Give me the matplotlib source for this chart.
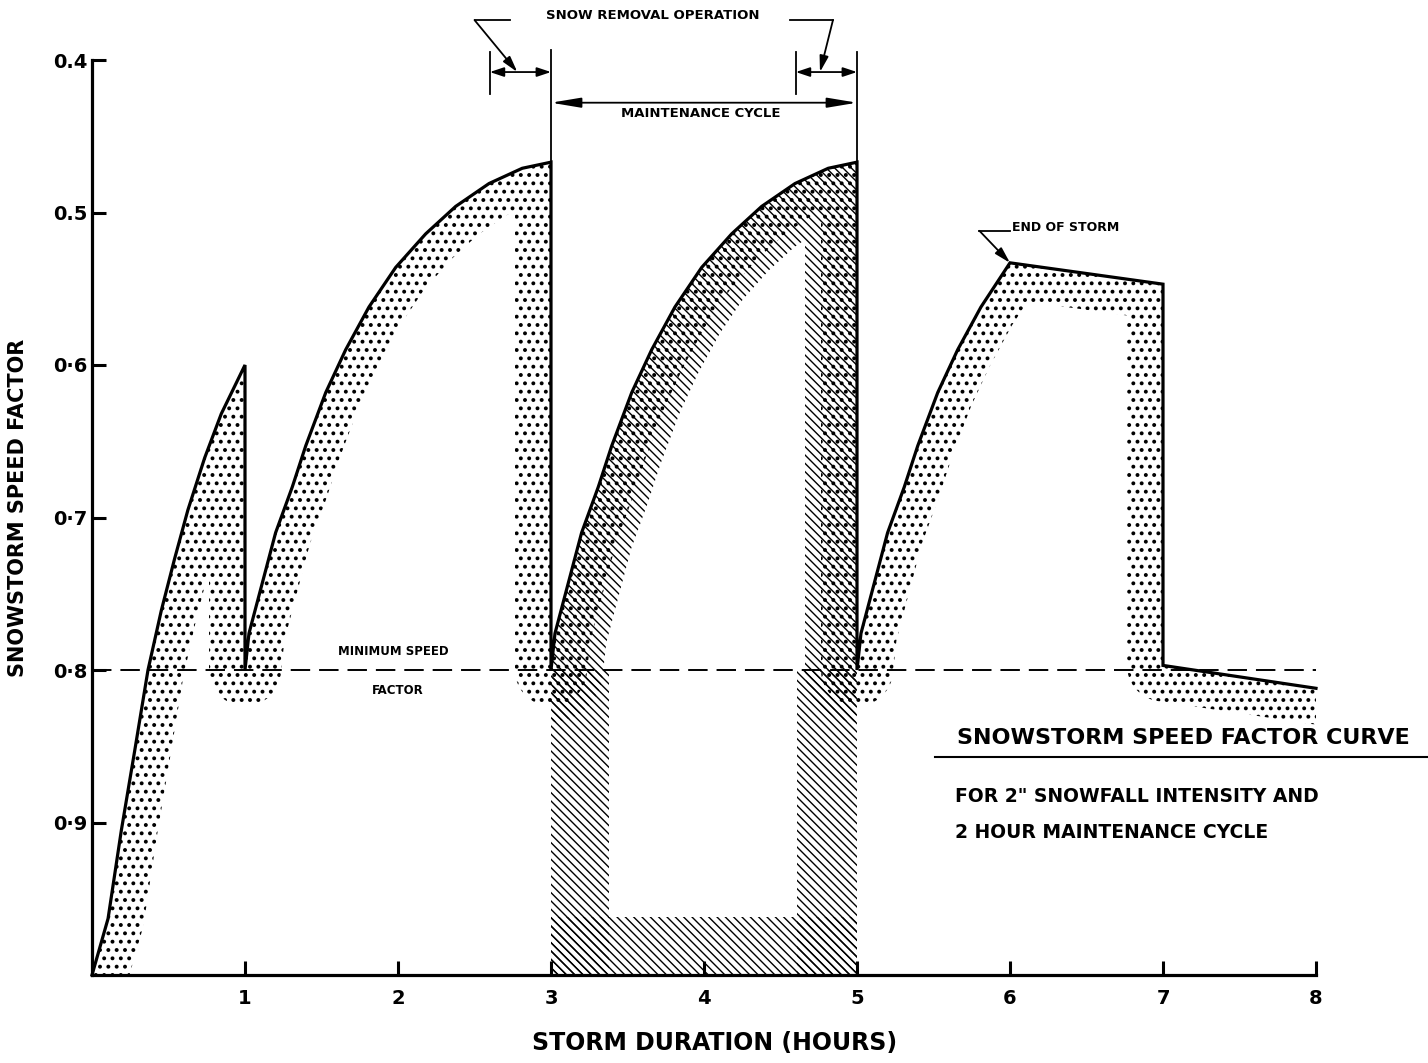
import numpy as np
import matplotlib
matplotlib.use("Agg")
import matplotlib.pyplot as plt
from matplotlib.path import Path
from matplotlib.patches import Rectangle
from matplotlib.lines import Line2D

# ------------------------------------------------------------------ data
curve_hours = [0.0, 0.105, 0.192, 0.279, 0.366, 0.453, 0.540, 0.627, 0.736, 0.845, 1.0,
               1.0, 1.026, 1.113, 1.20, 1.309, 1.397, 1.528, 1.658, 1.810, 1.985,
               2.181, 2.377, 2.595, 2.812, 3.0,
               3.0, 3.026, 3.113, 3.20, 3.309, 3.397, 3.528, 3.658, 3.810, 3.985,
               4.181, 4.377, 4.595, 4.812, 5.0,
               5.0, 5.026, 5.113, 5.20, 5.309, 5.397, 5.528, 5.658, 5.810, 6.0,
               7.0, 7.0, 8.0]
curve_factor = [1.0, 0.963, 0.905, 0.853, 0.800, 0.761, 0.727, 0.695, 0.661, 0.632, 0.600,
                0.800, 0.776, 0.743, 0.710, 0.680, 0.653, 0.618, 0.590, 0.562, 0.536,
                0.514, 0.496, 0.481, 0.471, 0.467,
                0.800, 0.776, 0.743, 0.710, 0.680, 0.653, 0.618, 0.590, 0.562, 0.536,
                0.514, 0.496, 0.481, 0.471, 0.467,
                0.800, 0.776, 0.743, 0.710, 0.680, 0.653, 0.618, 0.590, 0.562, 0.533,
                0.547, 0.797, 0.812]

min_speed_factor = 0.8
end_of_storm = (6.0, 0.533)
maintenance_cycle = (3.0, 5.0)
removal_left = (2.6, 3.0)
removal_right = (4.6, 5.0)
hatch_legs = [(3.0, 3.38), (4.61, 5.0)]
hatch_base = 0.962

x_ticks = [1, 2, 3, 4, 5, 6, 7, 8]
x_tick_labels = ["1", "2", "3", "4", "5", "6", "7", "8"]
y_ticks = [0.4, 0.5, 0.6, 0.7, 0.8, 0.9]
y_tick_labels = ["0.4", "0.5", "0·6", "0·7", "0·8", "0·9"]

# ------------------------------------------------------------------ style
BS = chr(92)
DOTS = ".."
DIAG = BS * 4

plt.rcParams["font.family"] = ["DejaVu Sans"]
plt.rcParams["font.weight"] = "bold"
plt.rcParams["hatch.color"] = "black"
plt.rcParams["hatch.linewidth"] = 1.6


def set_hlw(artist, lw):
    if hasattr(artist, "set_hatch_linewidth"):
        artist.set_hatch_linewidth(lw)


W_PX, H_PX = 1428, 1063
fig = plt.figure(figsize=(W_PX / 100, H_PX / 100), dpi=100)
L, R, T, B = 92, 1316, 60, 975
ax = fig.add_axes([L / W_PX, 1 - B / H_PX, (R - L) / W_PX, (B - T) / H_PX])
ax.set_xlim(0, 8)
ax.set_ylim(1.0, 0.4)

sx = (R - L) / 8.0
sy = (B - T) / 0.6

# ------------------------------------------------------------------ shading bands
cx = np.array(curve_hours)
cy = np.array(curve_factor)
gx = np.linspace(0, 8, 1100)
gy = np.linspace(0.4, 1.0, 820)
GX, GY = np.meshgrid(gx, gy)
PX, PY = GX * sx, GY * sy
qx, qy = cx * sx, cy * sy
dist = np.full(GX.shape, np.inf)
for i in range(len(cx) - 1):
    x0, y0, x1, y1 = qx[i], qy[i], qx[i + 1], qy[i + 1]
    dx, dy = x1 - x0, y1 - y0
    l2 = dx * dx + dy * dy
    if l2 == 0:
        continue
    t = np.clip(((PX - x0) * dx + (PY - y0) * dy) / l2, 0, 1)
    d = np.hypot(PX - (x0 + t * dx), PY - (y0 + t * dy))
    np.minimum(dist, d, out=dist)

poly = np.column_stack([np.r_[cx, 8.0, 0.0], np.r_[cy, 1.1, 1.1]])
inside = Path(poly).contains_points(
    np.column_stack([GX.ravel(), GY.ravel()])).reshape(GX.shape)

z_dots = np.where(inside, dist, 1e3)
cs1 = ax.contourf(GX, GY, z_dots, levels=[-1, 36], colors="none",
                  hatches=[DOTS], zorder=2)
set_hlw(cs1, 1.6)

in_cycle = inside & (GX >= maintenance_cycle[0]) & (GX <= maintenance_cycle[1])
z_diag = np.where(in_cycle, dist, 1e3)
cs2 = ax.contourf(GX, GY, z_diag, levels=[-1, 52], colors="none",
                  hatches=[DIAG], zorder=2)
set_hlw(cs2, 1.0)

for (a, b) in hatch_legs:
    p = ax.add_patch(Rectangle((a, min_speed_factor), b - a, 1.0 - min_speed_factor,
                               fill=False, edgecolor="black", linewidth=0,
                               hatch=DIAG, zorder=2))
    set_hlw(p, 1.0)
p = ax.add_patch(Rectangle((maintenance_cycle[0], hatch_base),
                           maintenance_cycle[1] - maintenance_cycle[0], 1.0 - hatch_base,
                           fill=False, edgecolor="black", linewidth=0,
                           hatch=DIAG, zorder=2))
set_hlw(p, 1.0)

# ------------------------------------------------------------------ minimum speed line
ax.plot([0, 8], [min_speed_factor, min_speed_factor], color="black", lw=1.4,
        dashes=(10, 4.6), zorder=1)
ax.text(1.967, 0.788, "MINIMUM SPEED", ha="center", va="center", fontsize=8.5,
        fontweight="bold", zorder=6)
ax.text(2.0, 0.8136, "FACTOR", ha="center", va="center", fontsize=8.5,
        fontweight="bold", zorder=6)

# ------------------------------------------------------------------ main curve
ax.plot(cx, cy, color="black", lw=2.3, solid_joinstyle="miter", zorder=5,
        clip_on=False)

# ------------------------------------------------------------------ axes styling
for s in ("top", "right"):
    ax.spines[s].set_visible(False)
for s in ("left", "bottom"):
    ax.spines[s].set_linewidth(2.3)
    ax.spines[s].set_zorder(6)
ax.set_xticks(x_ticks)
ax.set_xticklabels(x_tick_labels)
ax.set_yticks(y_ticks)
ax.set_yticklabels(y_tick_labels)
ax.tick_params(axis="both", direction="in", length=10, width=2.2,
               labelsize=14)
ax.tick_params(axis="x", pad=10)
ax.tick_params(axis="y", pad=3)
for lab in ax.get_xticklabels() + ax.get_yticklabels():
    lab.set_fontweight("bold")

# ------------------------------------------------------------------ dimension annotations
ext_kw = dict(color="black", lw=1.3, clip_on=False, zorder=6)
y_ext_top = 0.3945
y_ext_bot = 0.4220
y_removal = 0.4079
y_cycle = 0.428
top_val = 0.467
ax.plot([removal_left[0]] * 2, [y_ext_top, y_ext_bot], **ext_kw)
ax.plot([removal_right[0]] * 2, [y_ext_top, y_ext_bot], **ext_kw)
ax.plot([maintenance_cycle[0]] * 2, [y_ext_top - 0.001, top_val], **ext_kw)
ax.plot([maintenance_cycle[1]] * 2, [y_ext_top, top_val], **ext_kw)


def dim_arrow(x0, x1, y, scale, hl, hw):
    ax.annotate("", xy=(x1, y), xytext=(x0, y),
                arrowprops=dict(arrowstyle=f"<|-|>,head_length={hl},head_width={hw}",
                                color="black", lw=1.3, shrinkA=0, shrinkB=0,
                                mutation_scale=scale),
                annotation_clip=False, zorder=6)


dim_arrow(removal_left[0], removal_left[1], y_removal, 14, 0.6, 0.2)
dim_arrow(removal_right[0], removal_right[1], y_removal, 14, 0.6, 0.2)
dim_arrow(maintenance_cycle[0], maintenance_cycle[1], y_cycle, 20, 0.9, 0.15)

ax.text(3.98, 0.4348, "MAINTENANCE CYCLE", ha="center", va="center",
        fontsize=9.5, fontweight="bold")

ax.text(3.667, 0.371, "SNOW REMOVAL OPERATION", ha="center", va="center",
        fontsize=9.5, fontweight="bold", clip_on=False)


def leader(xs, ys, tip):
    ax.plot(xs, ys, color="black", lw=1.3, clip_on=False, zorder=6)
    ax.annotate("", xy=tip, xytext=(xs[-1], ys[-1]),
                arrowprops=dict(arrowstyle="-|>,head_length=0.8,head_width=0.22",
                                color="black", lw=1.3, shrinkA=0, shrinkB=0,
                                mutation_scale=12),
                annotation_clip=False, zorder=6)


leader([2.73, 2.50], [0.3738, 0.3738], (2.78, y_removal))
leader([4.56, 4.843], [0.3738, 0.3738], (4.758, y_removal))

# end of storm
ax.text(6.01, 0.510, "END OF STORM", ha="left", va="center", fontsize=9,
        fontweight="bold")
leader([6.0, 5.80], [0.512, 0.512], end_of_storm)

# ------------------------------------------------------------------ title block
fig.text(957 / W_PX, 1 - 738 / H_PX, "SNOWSTORM SPEED FACTOR CURVE", ha="left",
         va="center", fontsize=16, fontweight="bold")
fig.add_artist(Line2D([935 / W_PX, 1.0], [1 - 757 / H_PX] * 2,
                      transform=fig.transFigure, color="black", lw=1.5))
fig.text(955 / W_PX, 1 - 796 / H_PX, 'FOR 2" SNOWFALL INTENSITY AND', ha="left",
         va="center", fontsize=13.5, fontweight="bold")
fig.text(955 / W_PX, 1 - 832 / H_PX, "2 HOUR MAINTENANCE CYCLE", ha="left",
         va="center", fontsize=13.5, fontweight="bold")

# ------------------------------------------------------------------ axis labels
fig.text(715 / W_PX, 1 - 1043 / H_PX, "STORM DURATION (HOURS)", ha="center",
         va="center", fontsize=17, fontweight="bold")
fig.text(18 / W_PX, 1 - 508 / H_PX, "SNOWSTORM SPEED FACTOR", ha="center",
         va="center", rotation=90, fontsize=15, fontweight="bold")

fig.savefig("out.png", dpi=100, facecolor="white")
